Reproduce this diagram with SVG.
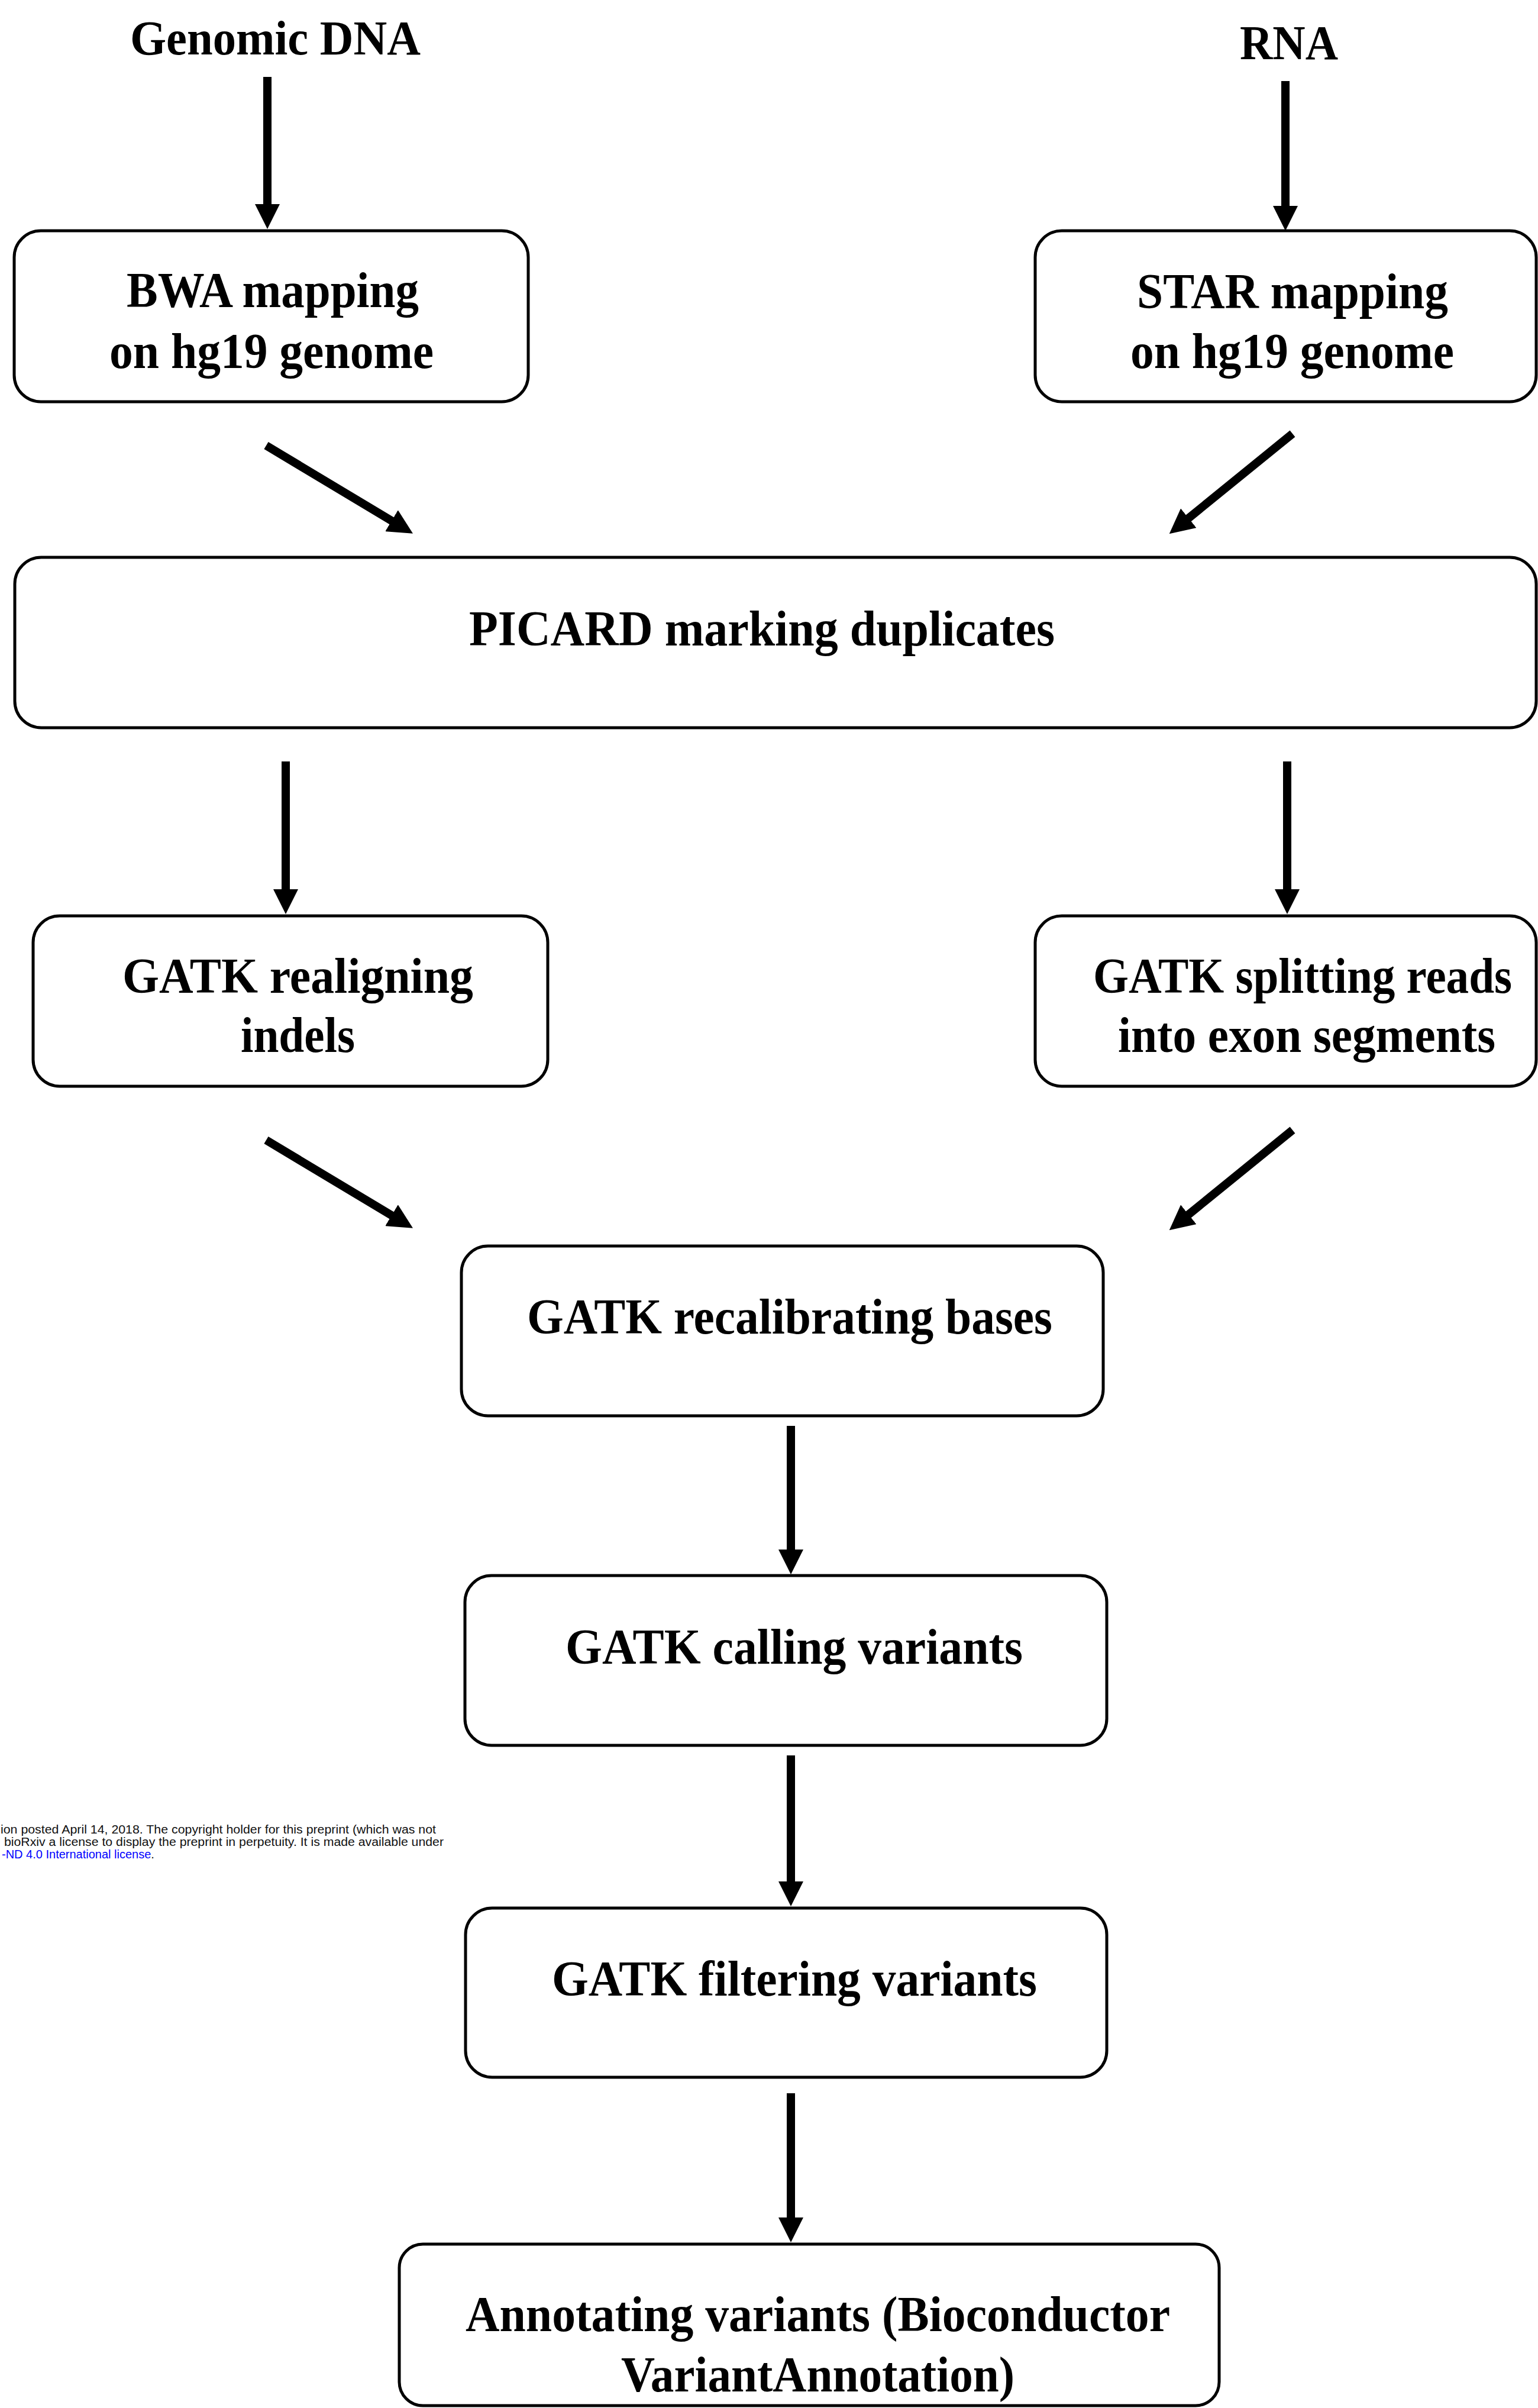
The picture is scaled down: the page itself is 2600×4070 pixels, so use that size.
<svg xmlns="http://www.w3.org/2000/svg" width="2600" height="4070" viewBox="0 0 2600 4070">
<style>
.box{fill:#fff;stroke:#000;stroke-width:5}
.t{font-family:"Liberation Serif","Times New Roman",serif;font-weight:bold;font-size:84px;fill:#000}
.lbl{font-family:"Liberation Serif","Times New Roman",serif;font-weight:bold;font-size:82px;fill:#000}
.arr{stroke:#000;stroke-width:14;fill:none;stroke-linecap:butt;marker-end:url(#ah)}
.wm{font-family:"Liberation Sans",Arial,sans-serif;font-size:20px;fill:#111}
.wmb{fill:#0000ff}
</style>
<defs>
<marker id="ah" viewBox="0 0 10 10" refX="5" refY="5" markerWidth="3" markerHeight="3" orient="auto" markerUnits="strokeWidth">
<path d="M0,0 L10,5 L0,10 z" fill="#000"/>
</marker>
</defs>
<rect x="0" y="0" width="2600" height="4070" fill="#fff"/>

<g id="genomic-dna">
<text class="lbl" x="220" y="92" textLength="491" lengthAdjust="spacingAndGlyphs">Genomic DNA</text>
</g>
<g id="rna">
<text class="lbl" x="2096" y="100" textLength="166" lengthAdjust="spacingAndGlyphs">RNA</text>
</g>

<g id="bwa">
<rect class="box" x="24" y="390" width="869" height="289" rx="45" ry="45"/>
<text class="t" x="214" y="519" textLength="494" lengthAdjust="spacingAndGlyphs">BWA mapping</text>
<text class="t" x="185" y="622" textLength="548" lengthAdjust="spacingAndGlyphs">on hg19 genome</text>
</g>

<g id="star">
<rect class="box" x="1750" y="390" width="847" height="289" rx="45" ry="45"/>
<text class="t" x="1922" y="521" textLength="526" lengthAdjust="spacingAndGlyphs">STAR mapping</text>
<text class="t" x="1911" y="622" textLength="547" lengthAdjust="spacingAndGlyphs">on hg19 genome</text>
</g>

<g id="picard">
<rect class="box" x="25" y="942" width="2572" height="288" rx="45" ry="45"/>
<text class="t" x="793" y="1091" textLength="990" lengthAdjust="spacingAndGlyphs">PICARD marking duplicates</text>
</g>

<g id="realign">
<rect class="box" x="56" y="1548" width="870" height="288" rx="45" ry="45"/>
<text class="t" x="207" y="1678" textLength="593" lengthAdjust="spacingAndGlyphs">GATK realigning</text>
<text class="t" x="407" y="1778" textLength="193" lengthAdjust="spacingAndGlyphs">indels</text>
</g>

<g id="split">
<rect class="box" x="1750" y="1548" width="847" height="288" rx="45" ry="45"/>
<text class="t" x="1848" y="1678" font-size="77" textLength="708" lengthAdjust="spacingAndGlyphs">GATK splitting reads</text>
<text class="t" x="1890" y="1778" textLength="638" lengthAdjust="spacingAndGlyphs">into exon segments</text>
</g>

<g id="recal">
<rect class="box" x="780" y="2106" width="1085" height="287" rx="45" ry="45"/>
<text class="t" x="891" y="2254" textLength="888" lengthAdjust="spacingAndGlyphs">GATK recalibrating bases</text>
</g>

<g id="calling">
<rect class="box" x="786" y="2663" width="1085" height="287" rx="45" ry="45"/>
<text class="t" x="956" y="2812" textLength="773" lengthAdjust="spacingAndGlyphs">GATK calling variants</text>
</g>

<g id="filtering">
<rect class="box" x="787" y="3225" width="1084" height="286" rx="45" ry="45"/>
<text class="t" x="933" y="3373" textLength="820" lengthAdjust="spacingAndGlyphs">GATK filtering variants</text>
</g>

<g id="annotating">
<rect class="box" x="675" y="3793" width="1386" height="273" rx="40" ry="40"/>
<text class="t" x="787" y="3940" textLength="1191" lengthAdjust="spacingAndGlyphs">Annotating variants (Bioconductor</text>
<text class="t" x="1050" y="4042" textLength="665" lengthAdjust="spacingAndGlyphs">VariantAnnotation)</text>
</g>

<g id="connectors">
<line class="arr" x1="452" y1="130" x2="452" y2="366"/>
<line class="arr" x1="2173" y1="137" x2="2173" y2="369"/>
<line class="arr" x1="450" y1="753" x2="680" y2="891"/>
<line class="arr" x1="2185" y1="733" x2="1993" y2="889"/>
<line class="arr" x1="483" y1="1287" x2="483" y2="1524"/>
<line class="arr" x1="2176" y1="1287" x2="2176" y2="1524"/>
<line class="arr" x1="450" y1="1927" x2="680" y2="2065"/>
<line class="arr" x1="2185" y1="1910" x2="1993" y2="2066"/>
<line class="arr" x1="1337" y1="2410" x2="1337" y2="2640"/>
<line class="arr" x1="1337" y1="2967" x2="1337" y2="3201"/>
<line class="arr" x1="1337" y1="3538" x2="1337" y2="3769"/>
</g>

<g id="watermark">
<text class="wm" x="1" y="3099" textLength="736" lengthAdjust="spacingAndGlyphs">ion posted April 14, 2018. The copyright holder for this preprint (which was not</text>
<text class="wm" x="7" y="3120" textLength="743" lengthAdjust="spacingAndGlyphs">bioRxiv a license to display the preprint in perpetuity. It is made available under</text>
<text class="wm" x="3" y="3141" font-size="20.5"><tspan class="wmb">-ND 4.0 International license</tspan>.</text>
</g>
</svg>
